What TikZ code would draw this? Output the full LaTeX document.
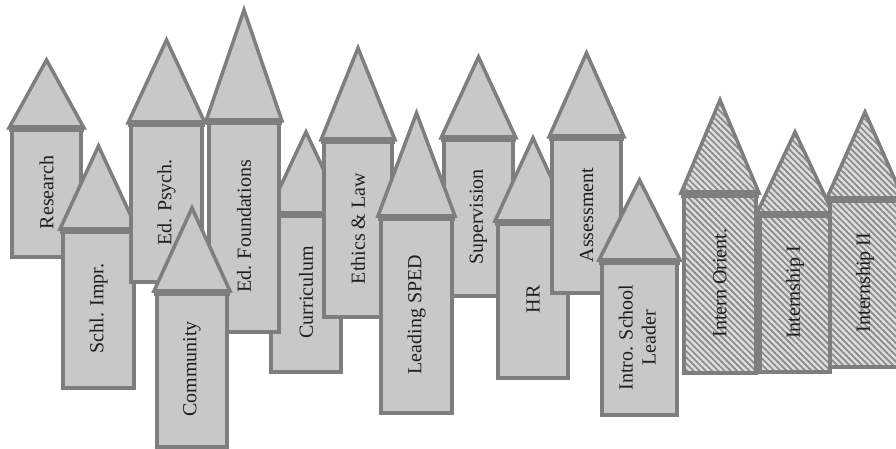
\documentclass[tikz,border=0pt]{standalone}
\usepackage{fontspec}
\setmainfont{Liberation Serif}
\usepackage{graphicx}
\usetikzlibrary{patterns.meta}
\definecolor{fillcol}{HTML}{C8C8C8}
\definecolor{bordercol}{HTML}{7E7E7E}
\definecolor{hatchbg}{HTML}{DCDCDC}
\definecolor{stripecol}{HTML}{8A8A8A}
\definecolor{txtcol}{HTML}{1E1E1E}
\tikzset{
  solidbody/.style={draw=bordercol, line width=3.5pt, fill=fillcol, inner sep=0pt, outer sep=0pt,
    text=txtcol, font=\fontsize{20}{23}\selectfont},
  hatchbody/.style={draw=bordercol, line width=3.5pt, preaction={fill=hatchbg},
    pattern={Lines[angle=-45,distance=4.4pt,line width=1.7pt]}, pattern color=stripecol,
    inner sep=0pt, outer sep=0pt, text=txtcol, font=\fontsize{20}{23}\selectfont},
  solidroof/.style={draw=bordercol, line width=3.5pt, fill=fillcol, line join=miter},
  hatchroof/.style={draw=bordercol, line width=3.5pt, preaction={fill=hatchbg},
    pattern={Lines[angle=-45,distance=4.4pt,line width=1.7pt]}, pattern color=stripecol, line join=miter},
  joint/.style={draw=bordercol, line width=7pt},
}
% #1 name, #2 left, #3 right, #4 body top, #5 bottom, #6 apex y, #7 text, #8 solid/hatch
\newcommand\house[8]{%
  \node[#8body, minimum width={(#3-#2)*1pt}, minimum height={(#5-#4)*1pt}]
    (#1) at ({(#2+#3)/2},{(#4+#5)/2}) {\rotatebox{90}{#7}};
  \draw[#8roof] ([xshift=-3pt]#1.north west) -- ({(#2+#3)/2},#6) -- ([xshift=3pt]#1.north east) -- cycle;
  \draw[joint] ([xshift=-3pt,yshift=-1pt]#1.north west) -- ([xshift=3pt,yshift=-1pt]#1.north east);
}
\begin{document}
\begin{tikzpicture}[x=1pt,y=-1pt]
\useasboundingbox (0,0) rectangle (896,449);
\fill[white] (0,0) rectangle (896,449);
\clip (0,0) rectangle (896,449);
\house{research}{12}{81}{128}{257}{60}{Research}{solid}
\house{schl}{63}{134}{229}{388}{146}{Schl. Impr.}{solid}
\house{edpsych}{131}{202}{123}{282}{40}{Ed. Psych.}{solid}
\house{curric}{271}{341}{213}{372}{132}{Curriculum}{solid}
\house{edfound}{209}{279}{121}{332}{10}{Ed. Foundations}{solid}
\house{community}{157}{227}{291}{447}{208}{Community}{solid}
\house{ethics}{324}{392}{140}{317}{48}{Ethics \& Law}{solid}
\house{supervision}{444}{513}{138}{296}{57}{Supervision}{solid}
\house{sped}{381}{452}{216}{413}{113}{Leading SPED}{solid}
\house{hr}{498}{568}{221}{378}{138}{HR}{solid}
\house{assessment}{552}{621}{137}{293}{53}{Assessment}{solid}
\house{intro}{602}{677}{260}{415}{180}{\begin{tabular}{@{}c@{}}Intro. School\\Leader\end{tabular}}{solid}
\house{internorient}{684}{756}{193}{373}{100}{Intern Orient.}{hatch}
\house{internone}{760}{830}{213}{372}{132}{Internship I}{hatch}
\house{interntwo}{830}{900}{198}{367}{112}{Internship II}{hatch}
\end{tikzpicture}
\end{document}
